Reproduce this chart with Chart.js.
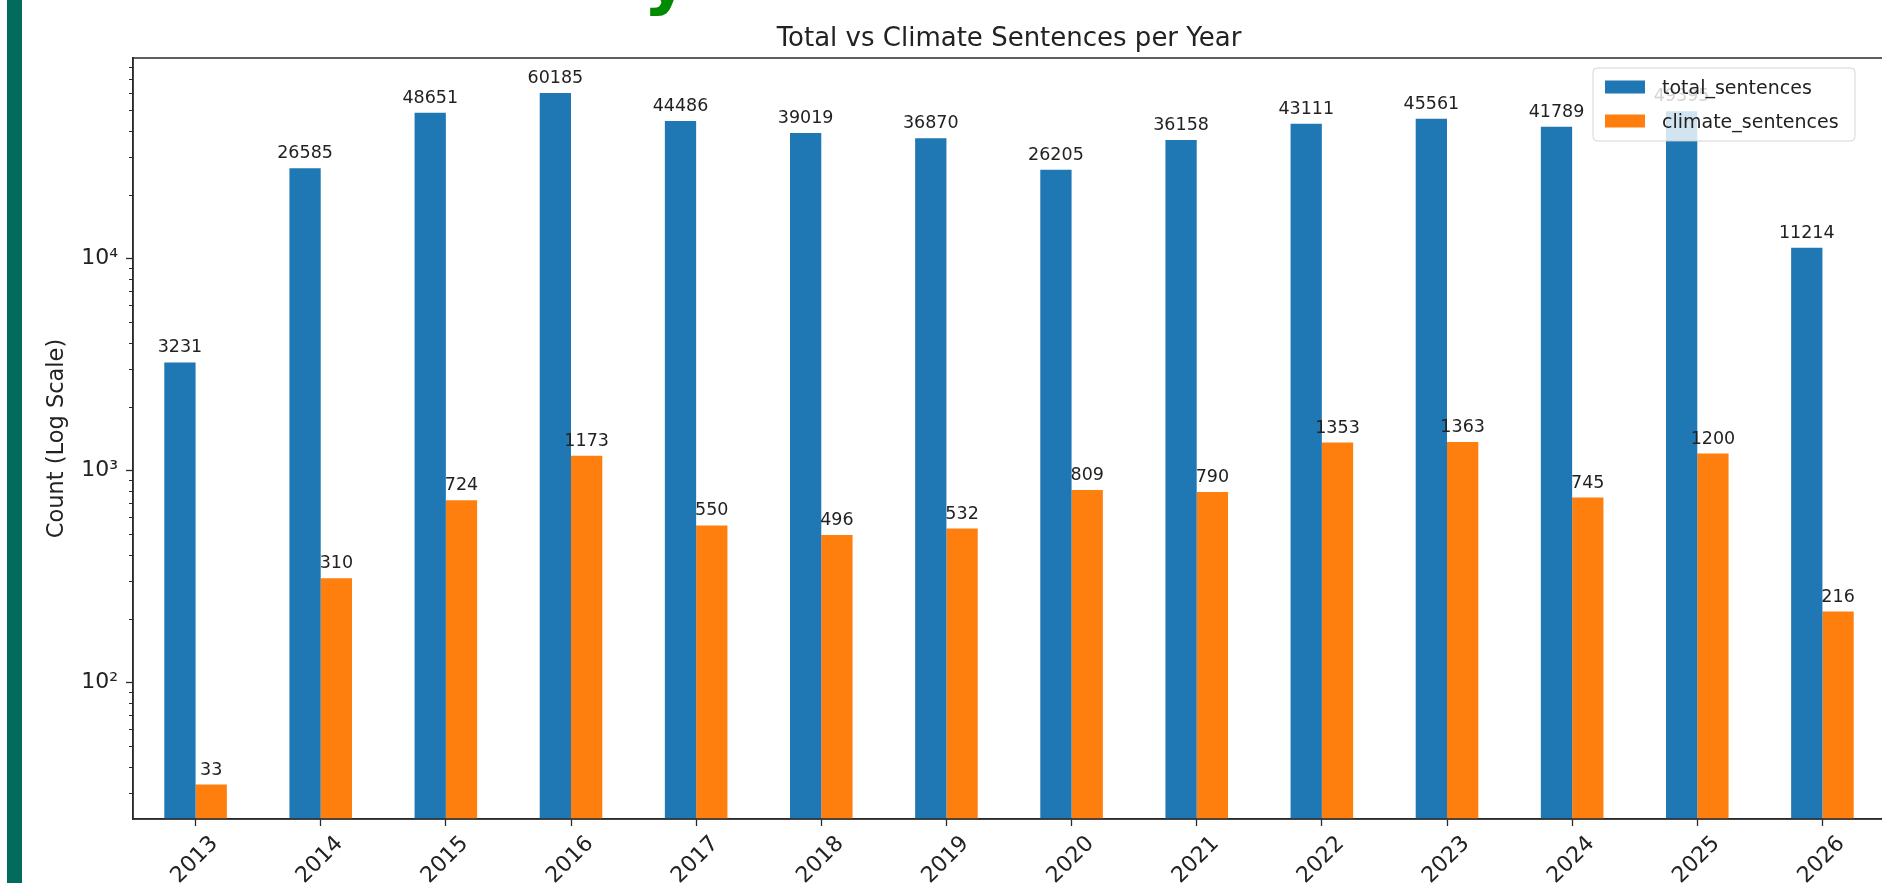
<!DOCTYPE html>
<html>
<head>
<meta charset="utf-8">
<title>Total vs Climate Sentences per Year</title>
<script src="https://cdn.jsdelivr.net/npm/chart.js@4.4.1/dist/chart.umd.min.js"></script>
<style>
  html, body { margin: 0; padding: 0; background: #fff; overflow: hidden; }
  body { width: 1882px; height: 883px; position: relative; }
  .side-bar { position: absolute; left: 7px; top: 0; width: 15px; height: 883px; background: #036b5b; }
  .heading-tail {
    position: absolute; left: 643px; top: -60px;
    font: bold 72px 'DejaVu Sans'; line-height: 72px; color: #008a00;
  }
  #chart-wrap { position: absolute; left: 0; top: 0; width: 1900px; height: 883px; }
</style>
</head>
<body>
<div class="heading-tail">y</div>
<div class="side-bar"></div>
<div id="chart-wrap"><canvas id="sentenceChart"></canvas></div>
<script>
const years = ['2013', '2014', '2015', '2016', '2017', '2018', '2019',
  '2020', '2021', '2022', '2023', '2024', '2025', '2026'];
const totalSentences = [3231, 26585, 48651, 60185, 44486, 39019, 36870,
  26205, 36158, 43111, 45561, 41789, 49395, 11214];
const climateSentences = [33, 310, 724, 1173, 550, 496, 532,
  809, 790, 1353, 1363, 745, 1200, 216];
const yTickValues = [100, 1000, 10000];
const yTickLabels = ['10²', '10³', '10⁴'];
const yMin = 22.7;
const yMax = 88100;

const FONT = '"DejaVu Sans", sans-serif';
const INK = '#222';
const SPINE = '#2b2b2b';

// frame, minor ticks, bar values, title and legend
const decorPlugin = {
  id: 'decor',
  afterDatasetsDraw(chart) {
    const { ctx } = chart;
    ctx.save();
    ctx.font = `17.5px ${FONT}`;
    ctx.fillStyle = INK;
    ctx.textAlign = 'center';
    ctx.textBaseline = 'alphabetic';
    chart.data.datasets.forEach((ds, i) => {
      chart.getDatasetMeta(i).data.forEach((bar, j) => {
        ctx.fillText(String(ds.data[j]), bar.x, bar.y - 10);
      });
    });
    ctx.restore();
  },
  afterDraw(chart) {
    const { ctx, chartArea: area, scales } = chart;
    const y = scales.y;

    ctx.save();
    ctx.strokeStyle = SPINE;
    ctx.lineWidth = 1.5;
    ctx.strokeRect(area.left, area.top, area.right - area.left, area.bottom - area.top);

    // minor log ticks
    ctx.lineWidth = 1;
    for (let d = 1; d <= 4; d++) {
      for (let k = 2; k <= 9; k++) {
        const v = k * Math.pow(10, d);
        if (v < yMin || v > yMax) continue;
        const py = Math.round(y.getPixelForValue(v)) + 0.5;
        ctx.beginPath();
        ctx.moveTo(area.left - 4, py);
        ctx.lineTo(area.left, py);
        ctx.stroke();
      }
    }

    // chart title
    ctx.font = `26px ${FONT}`;
    ctx.fillStyle = INK;
    ctx.textAlign = 'center';
    ctx.textBaseline = 'middle';
    ctx.fillText('Total vs Climate Sentences per Year', (area.left + area.right) / 2, 39);

    // legend box, upper right inside the axes
    const boxW = 262, boxH = 73;
    const bx = area.right - 30 - boxW;
    const by = area.top + 10;
    ctx.beginPath();
    ctx.roundRect(bx, by, boxW, boxH, 4);
    ctx.fillStyle = 'rgba(255,255,255,0.8)';
    ctx.fill();
    ctx.strokeStyle = 'rgba(204,204,204,0.8)';
    ctx.lineWidth = 1;
    ctx.stroke();

    ctx.font = `19px ${FONT}`;
    ctx.textAlign = 'left';
    ctx.textBaseline = 'middle';
    chart.data.datasets.forEach((ds, i) => {
      const rowY = by + 19 + i * 34;
      ctx.fillStyle = ds.backgroundColor;
      ctx.fillRect(bx + 12, rowY - 6.5, 40, 13);
      ctx.fillStyle = INK;
      ctx.fillText(ds.label, bx + 69, rowY + 2);
    });
    ctx.restore();
  }
};

const ctx = document.getElementById('sentenceChart');

new Chart(ctx, {
  type: 'bar',
  data: {
    labels: years,
    datasets: [
      {
        label: 'total_sentences',
        data: totalSentences,
        backgroundColor: '#1f77b4',
        categoryPercentage: 0.5,
        barPercentage: 1.0,
      },
      {
        label: 'climate_sentences',
        data: climateSentences,
        backgroundColor: '#ff7f0e',
        categoryPercentage: 0.5,
        barPercentage: 1.0,
      },
    ],
  },
  options: {
    responsive: true,
    maintainAspectRatio: false,
    animation: false,
    layout: { padding: { top: 58, right: 15, left: 0, bottom: 0 } },
    plugins: {
      legend: { display: false },
      title: { display: false },
      tooltip: { enabled: false },
    },
    scales: {
      x: {
        grid: {
          display: true,
          drawOnChartArea: false,
          offset: false,
          tickLength: 7,
          tickWidth: 1.3,
          tickColor: SPINE,
        },
        border: { color: SPINE, width: 1.5 },
        ticks: {
          minRotation: 45,
          maxRotation: 45,
          labelOffset: 19,
          padding: 5,
          color: INK,
          font: { family: FONT, size: 22 },
        },
        afterFit(scale) {
          scale.height = 64;
        },
      },
      y: {
        type: 'logarithmic',
        min: yMin,
        max: yMax,
        afterBuildTicks(scale) {
          scale.ticks = yTickValues.map((v) => ({ value: v }));
        },
        ticks: {
          padding: 8,
          color: INK,
          font: { family: FONT, size: 22 },
          callback(value) {
            const idx = yTickValues.indexOf(value);
            return idx >= 0 ? yTickLabels[idx] : '';
          },
        },
        grid: {
          display: true,
          drawOnChartArea: false,
          tickLength: 7,
          tickWidth: 1.3,
          tickColor: SPINE,
        },
        border: { color: SPINE, width: 1.5 },
        title: {
          display: true,
          text: 'Count (Log Scale)',
          color: INK,
          font: { family: FONT, size: 22.5 },
          padding: { top: 44, bottom: 0 },
        },
        afterFit(scale) {
          scale.width = 133;
        },
      },
    },
  },
  plugins: [decorPlugin],
});
</script>
</body>
</html>
